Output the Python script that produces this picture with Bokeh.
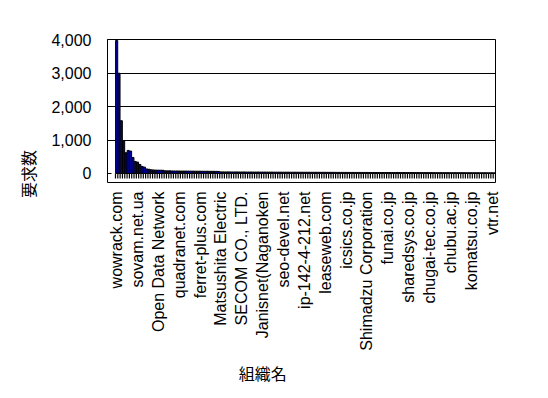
from math import pi
from bokeh.plotting import figure
from bokeh.models import (FixedTicker, NumeralTickFormatter, LinearAxis,
                          Range1d, ColumnDataSource)
from bokeh.embed import file_html
from bokeh.resources import INLINE

# ---- data ----
labeled_orgs = ["wowrack.com", "sovam.net.ua", "Open Data Network", "quadranet.com",
                "ferret-plus.com", "Matsushita Electric", "SECOM CO., LTD.",
                "Janisnet(Naganoken", "seo-devel.net", "ip-142-4-212.net",
                "leaseweb.com", "icsics.co.jp", "Shimadzu Corporation", "funai.co.jp",
                "sharedsys.co.jp", "chugai-tec.co.jp", "chubu.ac.jp", "komatsu.co.jp",
                "vtr.net"]
label_every = 9

requests = [3980, 3000, 1580, 980, 620, 690, 670, 480, 360, 340, 270, 210, 190, 135,
            125, 110, 105, 100, 100, 98, 95,
            80, 78, 78, 76, 75, 75, 74, 73, 72, 72, 71, 70, 70, 69, 68, 68, 67, 66,
            66, 65, 65, 64, 63, 62,
            48, 48, 47, 47, 47, 46, 46, 46, 45, 45, 45, 44, 44, 44, 43,
            43, 43, 42, 42, 42, 41, 41, 41, 40, 40, 40, 40, 39, 39, 39,
            38, 38, 38, 38, 37, 37, 37, 37, 36, 36, 36, 36, 35, 35, 35,
            35, 34, 34, 34, 34, 33, 33, 33, 33, 33, 32, 32, 32, 32, 31,
            31, 31, 31, 31, 30, 30, 30, 30, 30, 29, 29, 29, 29, 29, 28,
            28, 28, 28, 28, 28, 27, 27, 27, 27, 27, 27, 26, 26, 26, 26,
            26, 26, 25, 25, 25, 25, 25, 25, 24, 24, 24, 24, 24, 24, 23,
            23, 23, 23, 23, 23, 22, 22, 22, 22, 22, 21, 21, 21, 20]
y_ticks = [0, 1000, 2000, 3000, 4000]
y_title = "要求数"
x_title = "組織名"

N = len(requests)
idx = list(range(N))
label_pos = list(range(0, N, label_every))[:len(labeled_orgs)]

p = figure(width=540, height=398, output_backend="svg", toolbar_location=None,
           x_range=Range1d(-3.95, N - 0.5), y_range=Range1d(-270, 4010),
           min_border_left=107, min_border_right=45, min_border_top=39,
           min_border_bottom=216, background_fill_color="white",
           border_fill_color="white")
p.outline_line_color = "black"
p.outline_line_width = 1

src = ColumnDataSource(dict(x=idx, top=requests))
p.vbar(x="x", top="top", bottom=0, width=0.92, source=src,
       fill_color="#000099", line_color="black", line_width=1)

# floor tick marks at category boundaries
bounds = [i - 0.5 for i in range(N + 1)]
p.segment(x0=bounds, y0=[0] * len(bounds), x1=bounds, y1=[-150] * len(bounds),
          line_color="black", line_width=1.2)

# grid
p.xgrid.visible = False
p.ygrid.ticker = FixedTicker(ticks=y_ticks[1:])
p.ygrid.grid_line_color = "black"
p.ygrid.grid_line_width = 1

# y axis
ya = p.yaxis[0]
ya.ticker = FixedTicker(ticks=y_ticks)
ya.formatter = NumeralTickFormatter(format="0,0")
ya.major_tick_in = 4
ya.major_tick_out = 0
ya.minor_tick_line_color = None
ya.axis_line_color = None
ya.major_label_standoff = 16
ya.major_label_text_font = "Liberation Sans"
ya.major_label_text_font_size = "16px"
ya.major_label_text_color = "black"

# x axis
xa = p.xaxis[0]
xa.ticker = FixedTicker(ticks=label_pos)
xa.major_label_overrides = {pos: name for pos, name in zip(label_pos, labeled_orgs)}
xa.major_label_orientation = pi / 2
xa.major_tick_in = 0
xa.major_tick_out = 0
xa.minor_tick_line_color = None
xa.axis_line_color = None
xa.major_label_standoff = 9
xa.major_label_text_font = "Liberation Sans"
xa.major_label_text_font_size = "16px"
xa.major_label_text_color = "black"

# axis titles, placed as single-tick labels of extra outer axes
yt = LinearAxis(ticker=FixedTicker(ticks=[700]), major_label_overrides={700: y_title},
                major_label_orientation=pi / 2, axis_line_color=None,
                major_tick_line_color=None, minor_tick_line_color=None,
                major_tick_in=0, major_tick_out=0,
                major_label_standoff=20, major_label_text_line_height=0.8,
                major_label_text_font="Noto Sans CJK JP",
                major_label_text_font_size="16px", major_label_text_color="black")
p.add_layout(yt, "left")
xt = LinearAxis(ticker=FixedTicker(ticks=[63]), major_label_overrides={63: x_title},
                axis_line_color=None, major_tick_line_color=None,
                minor_tick_line_color=None, major_tick_in=0, major_tick_out=0,
                major_label_standoff=7,
                major_label_text_font="Noto Sans CJK JP",
                major_label_text_font_size="16px", major_label_text_color="black")
p.add_layout(xt, "below")

open("out.html", "w").write(file_html(p, INLINE))
